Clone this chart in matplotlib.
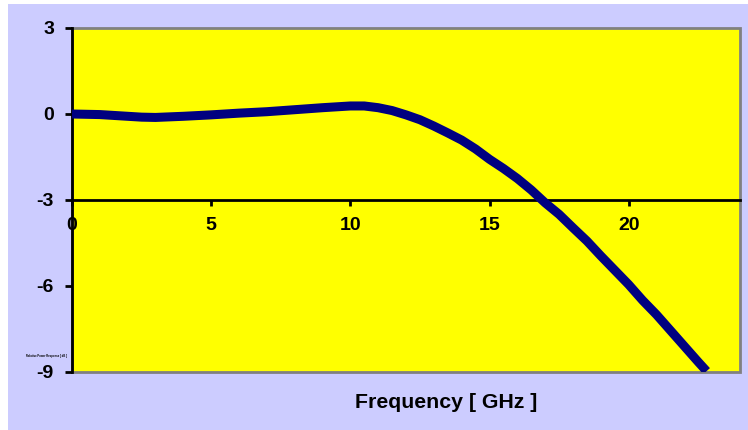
import numpy as np
import matplotlib.pyplot as plt
from matplotlib.patches import Rectangle

plt.rcParams['font.family'] = ['Liberation Sans', 'DejaVu Sans']
plt.rcParams['axes.unicode_minus'] = False

# data
freq = [0, 0.5, 1, 1.5, 2, 2.5, 3, 3.5, 4, 5, 6, 7, 8, 9, 10, 10.5, 11, 11.5,
        12, 12.5, 13, 13.5, 14, 14.5, 15, 15.5, 16, 16.5, 17, 17.5, 18, 18.5,
        19, 19.5, 20, 20.5, 21, 21.5, 22, 22.5, 22.8]
resp = [0.0, -0.01, -0.02, -0.05, -0.08, -0.11, -0.12, -0.10, -0.08, -0.03,
        0.03, 0.08, 0.15, 0.22, 0.28, 0.28, 0.22, 0.12,
        -0.03, -0.20, -0.42, -0.66, -0.91, -1.22, -1.58, -1.90, -2.25, -2.65,
        -3.10, -3.50, -3.97, -4.43, -4.95, -5.45, -5.95, -6.50, -7.00, -7.55,
        -8.10, -8.65, -8.97]
xticks = [0, 5, 10, 15, 20]
yticks = [3, 0, -3, -6, -9]

fig = plt.figure(figsize=(7.48, 4.30), dpi=100, facecolor='white')
# lavender chart area
fig.patches.append(Rectangle((8 / 748, 0), 1, 1 - 4 / 430, transform=fig.transFigure,
                             facecolor='#CCCCFF', edgecolor='none', zorder=-5))

ax = fig.add_axes([72 / 748, 1 - 372 / 430, 668 / 748, 344 / 430])
ax.set_facecolor('#FFFF00')
ax.plot(freq, resp, color='#000080', lw=6.5, solid_capstyle='butt', zorder=3)

ax.set_xlim(0, 24)
ax.set_ylim(-9, 3)

# gray frame of plot area
ax.add_patch(Rectangle((0, 0), 1, 1, transform=ax.transAxes, fill=False,
                       edgecolor='#808080', lw=2, clip_on=False, zorder=1))
for s in ['top', 'right']:
    ax.spines[s].set_visible(False)
ax.spines['bottom'].set_position(('data', -3))
ax.spines['bottom'].set_linewidth(2)
ax.spines['left'].set_linewidth(2)
ax.spines['bottom'].set_zorder(2)

ax.set_xticks(xticks)
ax.set_yticks(yticks)
ax.tick_params(axis='x', direction='out', length=4, width=2, pad=8,
               labelsize=14)
ax.tick_params(axis='y', direction='out', length=5, width=2, pad=8,
               labelsize=14)
for lab in ax.get_xticklabels() + ax.get_yticklabels():
    lab.set_fontweight('bold')

fig.text(446 / 748, 1 - 402 / 430, 'Frequency [ GHz ]', ha='center', va='center',
         fontsize=15.3, fontweight='bold')
fig.text(47 / 748, 1 - 356 / 430, 'Relative Power Response [ dB ]', ha='center',
         va='center', fontsize=2, fontweight='bold')

fig.savefig('out.png', dpi=100, facecolor=fig.get_facecolor())
